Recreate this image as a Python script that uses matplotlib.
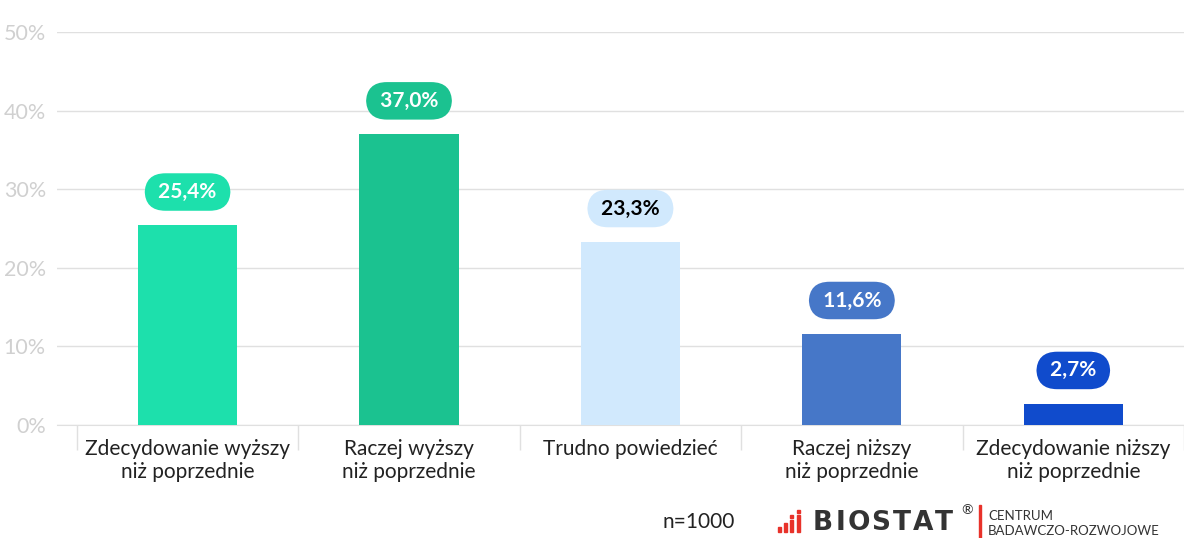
import matplotlib.pyplot as plt
from matplotlib.patches import Rectangle
import numpy as np

plt.rcParams['font.family'] = ['Lato', 'DejaVu Sans']

categories = ['Zdecydowanie wyższy\nniż poprzednie', 'Raczej wyższy\nniż poprzednie',
              'Trudno powiedzieć', 'Raczej niższy\nniż poprzednie',
              'Zdecydowanie niższy\nniż poprzednie']
values = [25.4, 37.0, 23.3, 11.6, 2.7]
colors = ['#1de0ac', '#1bc290', '#d1e9fd', '#4677c8', '#104bcc']
label_colors = ['white', 'white', 'black', 'white', 'white']
yticks = [0, 10, 20, 30, 40, 50]

W, H = 1184, 538
fig = plt.figure(figsize=(W / 100, H / 100), dpi=100)
ax = fig.add_axes([57 / W, 1 - 425 / H, 1127 / W, (425 - 32) / H])

x = np.arange(len(categories))
ax.bar(x, values, width=0.448, color=colors, zorder=3)

for xi, v, c, tc in zip(x, values, colors, label_colors):
    lbl = ' ' + f'{v:.1f}%'.replace('.', ',') + ' '
    ax.annotate(lbl, (xi, v), xytext=(0, 24),
                textcoords='offset points', ha='center', va='center',
                fontsize=15, fontweight='bold', color=tc, zorder=5,
                bbox=dict(boxstyle='round,pad=0.42,rounding_size=1.0', fc=c, ec='none'))

ax.set_ylim(0, 50)
# category slots are 223 px wide, first boundary 20 px right of the plot edge
ax.set_xlim(-0.5 - 20 / 223, 4.5 - 8 / 223)
ax.set_yticks(yticks)
ax.set_yticklabels([f'{t}%' for t in yticks], color='#d0d0d0', fontsize=15.5)
ax.yaxis.grid(True, color='#e0e0e0', lw=1)
ax.set_axisbelow(True)
ax.tick_params(axis='y', length=0, pad=8)
for s in ['top', 'right', 'left']:
    ax.spines[s].set_visible(False)
ax.spines['bottom'].set_color('#e0e0e0')

ax.set_xticks(x)
ax.set_xticklabels(categories, fontsize=15, color='#222222', linespacing=1.2)
ax.tick_params(axis='x', length=0, pad=10)
ax.set_xticks(np.arange(len(categories) + 1) - 0.5, minor=True)
ax.tick_params(axis='x', which='minor', length=18, color='#e0e0e0', width=1)

# footer
fig.text(699 / W, 1 - 522 / H, 'n=1000', ha='center', va='center', fontsize=15, color='#222222')
for bx, bh, by in [(778, 5, 527), (784, 9, 523), (790, 12, 520), (797, 17, 515)]:
    fig.patches.append(Rectangle((bx / W, 1 - (by + bh) / H), 3.5 / W, bh / H,
                                 transform=fig.transFigure, color='#e8322a'))
for dx, dy in [(791.7, 515), (798.7, 510)]:
    fig.patches.append(Rectangle(((dx - 1.7) / W, 1 - (dy + 3) / H), 3.5 / W, 3 / H,
                                 transform=fig.transFigure, color='#e8322a'))
for ch, cx in zip('BIOSTAT', [823, 841, 859, 881, 902, 923, 944]):
    fig.text(cx / W, 1 - 523 / H, ch, ha='center', va='center', fontsize=19,
             fontweight='bold', color='#333333', family='DejaVu Sans')
fig.text(961 / W, 1 - 510 / H, '®', ha='left', va='center', fontsize=10, color='#333333')
fig.patches.append(Rectangle((979 / W, 0), 2 / W, 33 / H, transform=fig.transFigure,
                             color='#e8322a'))
fig.text(988 / W, 1 - 516 / H, 'CENTRUM', ha='left', va='center', fontsize=9.5, color='#333333')
fig.text(988 / W, 1 - 531 / H, 'BADAWCZO-ROZWOJOWE', ha='left', va='center', fontsize=9.5,
         color='#333333')

fig.savefig('out.png', dpi=100)
